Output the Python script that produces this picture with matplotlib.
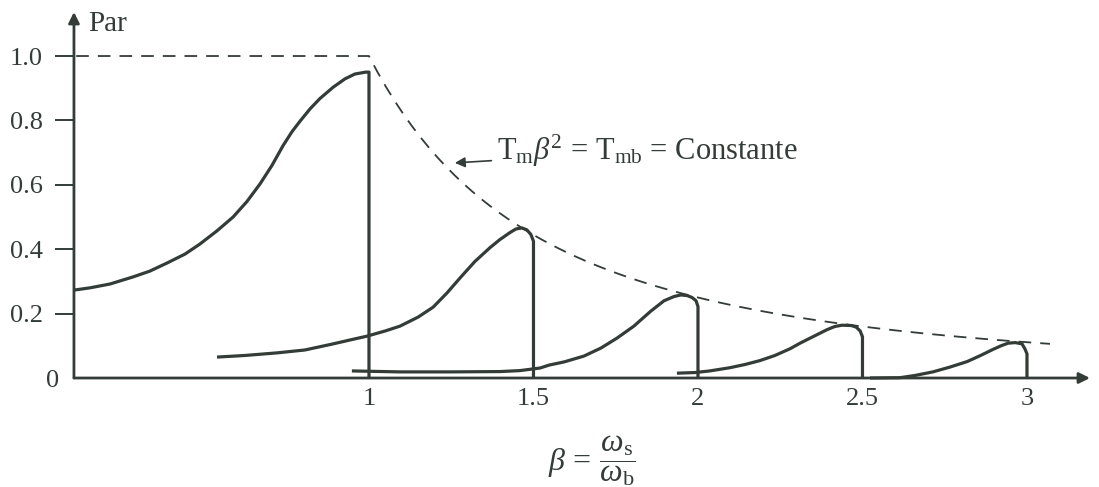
import numpy as np
import matplotlib
matplotlib.use("Agg")
import matplotlib.pyplot as plt

plt.rcParams['font.family'] = ['Liberation Serif', 'DejaVu Serif']
plt.rcParams['mathtext.fontset'] = 'custom'
plt.rcParams['mathtext.rm'] = 'Liberation Serif'
plt.rcParams['mathtext.it'] = 'Liberation Serif:italic'

ink = '#343c38'

# torque / speed curves for each base speed (beta, per-unit torque)
beta1 = [0.103, 0.152, 0.213, 0.283, 0.334, 0.386, 0.441, 0.486, 0.538, 0.587, 0.629,
         0.669, 0.705, 0.739, 0.766, 0.790, 0.821, 0.851, 0.891, 0.927, 0.957, 0.99, 1.0, 1.0]
par1 = [0.273, 0.280, 0.292, 0.314, 0.332, 0.357, 0.385, 0.416, 0.457, 0.500, 0.548,
        0.603, 0.660, 0.722, 0.765, 0.797, 0.836, 0.868, 0.903, 0.929, 0.944, 0.950, 0.950, 0.0]

beta2 = [0.538, 0.623, 0.720, 0.805, 0.891, 0.942, 0.994, 1.049, 1.094, 1.149, 1.195, 1.237,
         1.277, 1.322, 1.368, 1.398, 1.429, 1.447, 1.465, 1.480, 1.492, 1.5, 1.5]
par2 = [0.065, 0.070, 0.078, 0.087, 0.106, 0.118, 0.130, 0.146, 0.161, 0.189, 0.220, 0.264,
        0.311, 0.362, 0.405, 0.430, 0.452, 0.463, 0.466, 0.460, 0.446, 0.425, 0.0]

beta3 = [0.948, 1.094, 1.246, 1.398, 1.459, 1.520, 1.547, 1.593, 1.653, 1.705, 1.754, 1.805,
         1.857, 1.897, 1.927, 1.948, 1.967, 1.982, 1.994, 2.0, 2.0]
par3 = [0.022, 0.019, 0.019, 0.020, 0.023, 0.031, 0.040, 0.050, 0.068, 0.093, 0.124, 0.161,
        0.208, 0.240, 0.253, 0.258, 0.256, 0.250, 0.240, 0.222, 0.0]

beta4 = [1.936, 1.991, 2.036, 2.097, 2.143, 2.188, 2.234, 2.280, 2.310, 2.347, 2.392, 2.416,
         2.438, 2.466, 2.481, 2.493, 2.5, 2.5]
par4 = [0.015, 0.017, 0.022, 0.032, 0.042, 0.054, 0.070, 0.091, 0.108, 0.127, 0.150, 0.160,
        0.164, 0.163, 0.158, 0.146, 0.128, 0.0]

beta5 = [2.523, 2.614, 2.660, 2.714, 2.766, 2.818, 2.857, 2.897, 2.921, 2.942, 2.964, 2.985,
         2.994, 3.0, 3.0]
par5 = [0.0, 0.001, 0.008, 0.019, 0.034, 0.051, 0.069, 0.089, 0.100, 0.108, 0.110, 0.106,
        0.090, 0.075, 0.0]

# limit T_m * beta^2 = T_mb, with T_mb = 1
t_mb = 1.0
beta_env = np.linspace(1.0, 3.07, 80)
par_env = t_mb / beta_env**2

yticks = [0, 0.2, 0.4, 0.6, 0.8, 1.0]
ytick_labels = ['0', '0.2', '0.4', '0.6', '0.8', '1.0']
xticks = [1, 1.5, 2, 2.5, 3]
xtick_labels = ['1', '1.5', '2', '2.5', '3']

fig = plt.figure(figsize=(10.99, 4.87), dpi=100)
ax = fig.add_axes([0.0673, 0.2238, 0.9245, 0.7515])
ax.set_xlim(0.1033, 3.1915)
ax.set_ylim(0, 1.1366)
for s in ax.spines.values():
    s.set_visible(False)

# axes with arrow heads
ax.annotate('', xy=(1, 0), xytext=(0, 0), xycoords='axes fraction',
            arrowprops=dict(arrowstyle='-|>', lw=2.0, color=ink, mutation_scale=16,
                            shrinkA=0, shrinkB=0))
ax.annotate('', xy=(0, 1), xytext=(0, 0), xycoords='axes fraction',
            arrowprops=dict(arrowstyle='-|>', lw=2.0, color=ink, mutation_scale=16,
                            shrinkA=0, shrinkB=0))

for b, p in [(beta1, par1), (beta2, par2), (beta3, par3), (beta4, par4), (beta5, par5)]:
    ax.plot(b, p, color=ink, lw=2.3, solid_joinstyle='round', solid_capstyle='butt', clip_on=False)

ax.plot([0.11] + list(beta_env), [t_mb] + list(par_env), color=ink, lw=1.3,
        dashes=(7, 5), clip_on=False)

ax.set_yticks(yticks)
ax.set_yticklabels(ytick_labels)
ax.set_xticks(xticks)
ax.set_xticklabels(xtick_labels)
ax.tick_params(axis='y', direction='out', length=13.5, width=1.4, color=ink,
               labelsize=19, labelcolor=ink, pad=9)
ax.tick_params(axis='x', length=0, labelsize=19, labelcolor=ink, pad=7)
# no tick mark at the origin, its label sits closer to the axis
ax.yaxis.get_major_ticks()[0].tick1line.set_visible(False)
ax.yaxis.get_major_ticks()[0].set_pad(-3)

ax.text(0.014, 0.967, 'Par', transform=ax.transAxes, fontsize=21, color=ink,
        ha='left', va='center')

ax.annotate(r'$\mathrm{T_m}\beta^2\,=\,\mathrm{T_{mb}}$ = Constante',
            xy=(1.261, 0.668), xytext=(1.389, 0.705),
            fontsize=22, color=ink, va='center', ha='left',
            arrowprops=dict(arrowstyle='-|>', lw=1.2, color=ink, mutation_scale=15,
                            shrinkA=2, shrinkB=0))

ax.set_xlabel(r'$\beta\,=\,\dfrac{\omega_\mathrm{s}}{\omega_\mathrm{b}}$', fontsize=23, color=ink)
ax.xaxis.set_label_coords(0.51, -0.225)
ax.xaxis.label.set_va('center')

fig.savefig('out.png', dpi=100, facecolor='white')
